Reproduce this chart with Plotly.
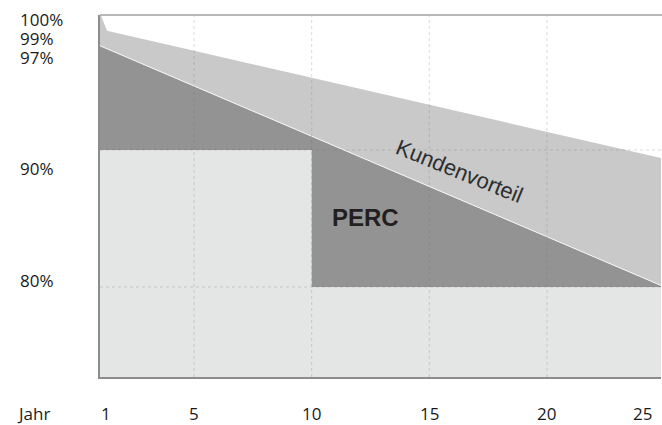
import plotly.graph_objects as go

# ---- data ----
years_band_top = [1, 1.3, 25]          # Kundenvorteil upper line
band_top_pct = [100, 98.7, 89.35]
years_perc = [1, 25]                    # PERC linear guarantee
perc_pct = [97.6, 80]
years_std = [1, 10, 10, 25]             # standard step guarantee
std_pct = [90, 90, 80, 80]

x_grid = [5, 10, 15, 20]
y_grid = [80, 90]

y_labels = ["100%", "99%", "97%", "90%", "80%"]
y_label_vals = [100, 99, 97, 90, 80]
x_labels = ["1", "5", "10", "15", "20", "25"]
x_label_vals = [1, 5, 10, 15, 20, 25]

Y_MIN, Y_MAX = 73.43, 99.85
X_MIN, X_MAX = 1, 24.85

C_BAND = "#c9c9c9"
C_DARK = "#939393"
C_LIGHT = "#e4e5e5"

fig = go.Figure()

# light grey standard guarantee area
fig.add_trace(go.Scatter(
    x=years_std + [years_std[-1], years_std[0]],
    y=std_pct + [Y_MIN - 5, Y_MIN - 5],
    fill="toself", fillcolor=C_LIGHT, mode="none", hoverinfo="skip"))

# dark PERC area: between PERC line and standard step
fig.add_trace(go.Scatter(
    x=years_perc + years_std[::-1],
    y=perc_pct + std_pct[::-1],
    fill="toself", fillcolor=C_DARK, mode="none", hoverinfo="skip"))

# Kundenvorteil band: between upper line and PERC line
fig.add_trace(go.Scatter(
    x=years_band_top + years_perc[::-1],
    y=band_top_pct + perc_pct[::-1],
    fill="toself", fillcolor=C_BAND, mode="none", hoverinfo="skip"))

# thin white separator
fig.add_trace(go.Scatter(
    x=years_perc, y=perc_pct, mode="lines",
    line=dict(color="rgba(255,255,255,0.85)", width=1), hoverinfo="skip"))

shapes = []
for gx in x_grid:
    shapes.append(dict(type="line", xref="x", yref="paper", x0=gx, x1=gx, y0=0, y1=1,
                       line=dict(color="rgba(110,110,110,0.25)", width=1, dash="dot"),
                       layer="above"))
for gy in y_grid:
    shapes.append(dict(type="line", xref="paper", yref="y", x0=0, x1=1, y0=gy, y1=gy,
                       line=dict(color="rgba(110,110,110,0.25)", width=1, dash="dot"),
                       layer="above"))
# top border
shapes.append(dict(type="line", xref="paper", yref="paper", x0=0, x1=1.01, y0=1, y1=1,
                   line=dict(color="#b8b8b8", width=2), layer="above"))


def ypaper(v):
    return (v - Y_MIN) / (Y_MAX - Y_MIN)


def xpaper(v):
    return (v - X_MIN) / (X_MAX - X_MIN)


lab_font = dict(family="Open Sans, DejaVu Sans, sans-serif", size=17, color="#1a1a1a")
annotations = []
y_shifts = [-7, -12, -3, -19, 6]
for txt, v, ys in zip(y_labels, y_label_vals, y_shifts):
    annotations.append(dict(text=txt, xref="paper", yref="paper", x=-0.147, y=ypaper(v), yshift=ys,
                            xanchor="left", yanchor="middle", showarrow=False, font=lab_font))
x_shifts = [6, 0, 0, 0, 0, -22]
for txt, v, xs in zip(x_labels, x_label_vals, x_shifts):
    annotations.append(dict(text=txt, xref="paper", yref="paper", x=xpaper(v), y=0, xshift=xs, yshift=-36,
                            xanchor="center", yanchor="middle", showarrow=False, font=lab_font))
annotations.append(dict(text="Jahr", xref="paper", yref="paper", x=-0.118, y=0, yshift=-36,
                        xanchor="center", yanchor="middle", showarrow=False, font=lab_font))

annotations.append(dict(text="Kundenvorteil", xref="x", yref="y", x=16.3, y=88.4,
                        textangle=22, showarrow=False,
                        font=dict(family="Liberation Sans, Arial, sans-serif", size=22, color="#2e2e2e")))
annotations.append(dict(text="<b>PERC</b>", xref="x", yref="y", x=12.3, y=85.05,
                        showarrow=False,
                        font=dict(family="Liberation Sans, Arial, sans-serif", size=24, color="#231f20")))

fig.update_layout(
    width=662, height=425,
    margin=dict(l=100, r=1, t=15, b=48),
    paper_bgcolor="white", plot_bgcolor="white",
    showlegend=False,
    shapes=shapes, annotations=annotations,
    xaxis=dict(range=[X_MIN, X_MAX], showgrid=False, zeroline=False, showticklabels=False,
               ticks="", showline=True, linecolor="#8c8c8c", linewidth=2, fixedrange=True),
    yaxis=dict(range=[Y_MIN, Y_MAX], showgrid=False, zeroline=False, showticklabels=False,
               ticks="", showline=True, linecolor="#8c8c8c", linewidth=2, fixedrange=True),
)

fig.write_html(
    "out.html",
    config={"displayModeBar": False},
    post_script="document.body.style.margin='0';document.body.style.overflow='hidden';",
)
